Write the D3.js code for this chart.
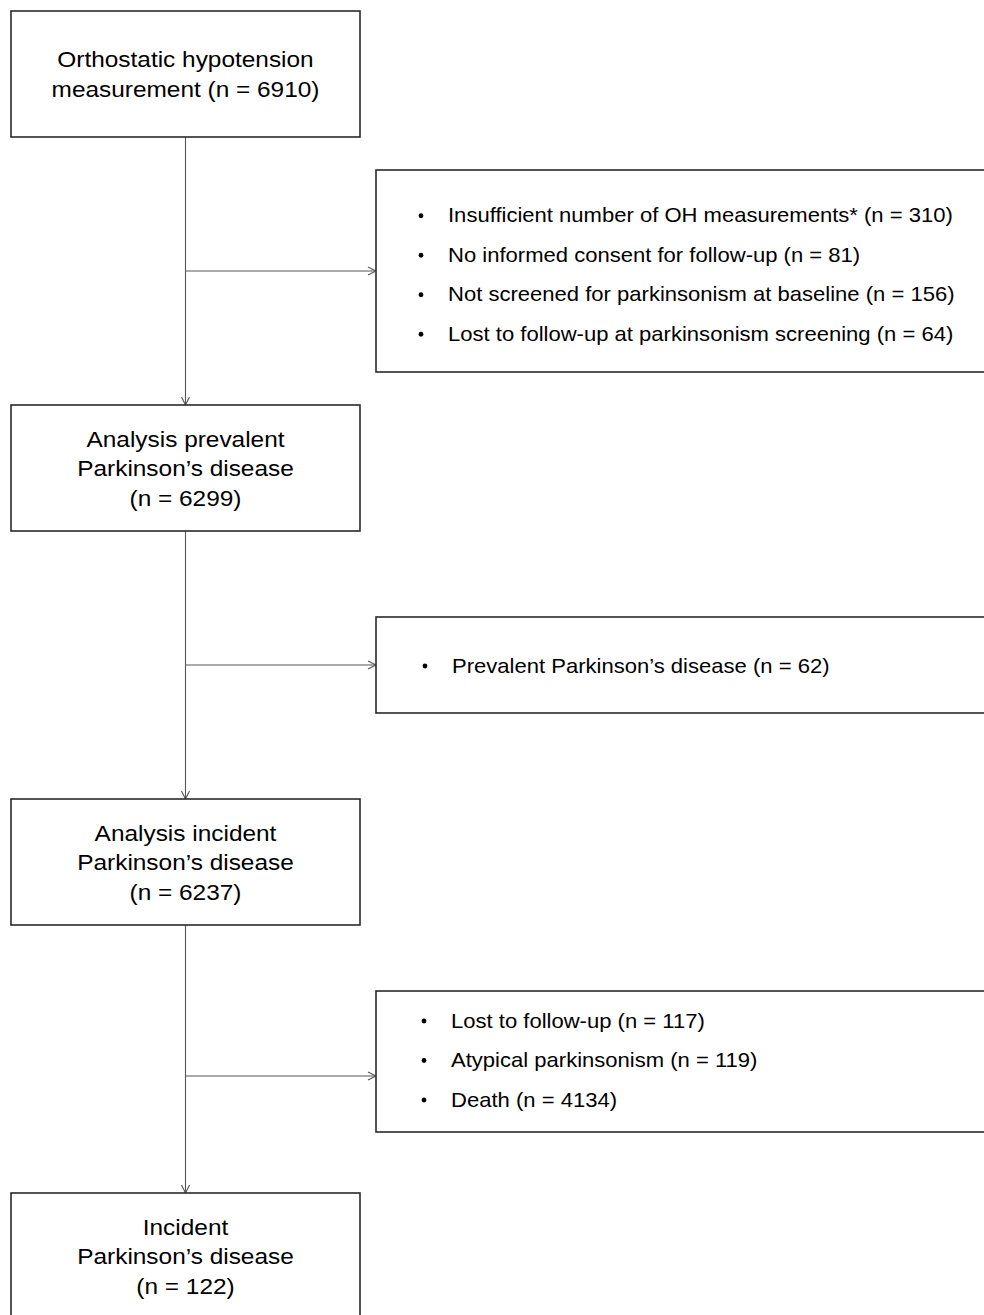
<!DOCTYPE html>
<html>
<head>
<meta charset="utf-8">
<script src="https://cdn.jsdelivr.net/npm/d3@7"></script>
<style>
  html, body { margin: 0; padding: 0; background: #fff; }
  svg { display: block; }
  text { font-family: "Liberation Sans", Arial, sans-serif; fill: #000; }
</style>
</head>
<body>
<script>
// flow chart content
var stepLabels = [
	['Orthostatic hypotension', 'measurement (n = 6910)'],
	['Analysis prevalent', 'Parkinson\u2019s disease', '(n = 6299)'],
	['Analysis incident', 'Parkinson\u2019s disease', '(n = 6237)'],
	['Incident', 'Parkinson\u2019s disease', '(n = 122)']
];
var exclusionsA = [
	'Insufficient number of OH measurements* (n = 310)',
	'No informed consent for follow-up (n = 81)',
	'Not screened for parkinsonism at baseline (n = 156)',
	'Lost to follow-up at parkinsonism screening (n = 64)'
];
var exclusionsB = ['Prevalent Parkinson\u2019s disease (n = 62)'];
var exclusionsC = [
	'Lost to follow-up (n = 117)',
	'Atypical parkinsonism (n = 119)',
	'Death (n = 4134)'
];
var exclusions = [exclusionsA, exclusionsB, exclusionsC];

// layout
var W = 984, H = 1315,
	boxX = 11, boxW = 349, boxH = 126,
	sideX = 376, sideW = 640,
	sideTop = [170, 617, 991], sideH = [202, 96, 141],
	arrowShift = [0, 0, 17],
	textShift = [3, 0, -2],
	indent = [0, 4, 3];

var y = d3.scaleLinear().domain([0, stepLabels.length - 1]).range([boxX, 1193]);
var midX = boxX + boxW / 2;

var svg = d3.select('body').append('svg').attr('width', W).attr('height', H);

var line = svg.append('g').attr('stroke', '#555').attr('stroke-width', 1.1).attr('fill', 'none');

function arrowHead(x, yy, dir) {
	// open V head, dir 'down' or 'right'
	var p = dir === 'down'
		? [[x - 4, yy - 8], [x, yy], [x + 4, yy - 8]]
		: [[x - 8, yy - 4], [x, yy], [x - 8, yy + 4]];
	line.append('path').attr('d', d3.line()(p));
}

// connectors
d3.range(stepLabels.length - 1).forEach(function(i) {
	var y0 = y(i) + boxH, y1 = y(i + 1);
	line.append('line').attr('x1', midX).attr('x2', midX).attr('y1', y0).attr('y2', y1);
	arrowHead(midX, y1, 'down');
	var ya = (y0 + y1) / 2 + arrowShift[i];
	line.append('line').attr('x1', midX).attr('x2', sideX).attr('y1', ya).attr('y2', ya);
	arrowHead(sideX, ya, 'right');
});

// main boxes
var boxes = svg.selectAll('g.step').data(stepLabels).enter().append('g').attr('class', 'step');
boxes.append('rect')
	.attr('x', boxX).attr('y', function(d, i) { return y(i); })
	.attr('width', boxW).attr('height', boxH)
	.attr('fill', '#fff').attr('stroke', '#2a2a2a').attr('stroke-width', 1.6);
boxes.each(function(d, i) {
	var g = d3.select(this), cy = y(i) + boxH / 2;
	d.forEach(function(t, j) {
		var by = cy + (j - (d.length - 1) / 2) * 29.5 + 8;
		g.append('text')
			.attr('transform', 'translate(' + midX + ',' + by + ') scale(1.08,1)')
			.attr('text-anchor', 'middle').attr('font-size', 22.6).text(t);
	});
});

// exclusion boxes
var side = svg.selectAll('g.side').data(exclusions).enter().append('g').attr('class', 'side');
side.append('rect')
	.attr('x', sideX).attr('y', function(d, i) { return sideTop[i]; })
	.attr('width', sideW).attr('height', function(d, i) { return sideH[i]; })
	.attr('fill', '#fff').attr('stroke', '#2a2a2a').attr('stroke-width', 1.6);
side.each(function(d, i) {
	var g = d3.select(this), cy = sideTop[i] + sideH[i] / 2 + textShift[i];
	d.forEach(function(t, j) {
		var by = cy + (j - (d.length - 1) / 2) * 39.5 + 7.5;
		g.append('circle').attr('cx', sideX + 45 + indent[i]).attr('cy', by - 6.5).attr('r', 2.4).attr('fill', '#000');
		g.append('text')
			.attr('transform', 'translate(' + (sideX + 72 + indent[i]) + ',' + by + ') scale(1.07,1)')
			.attr('font-size', 20.6).text(t);
	});
});
</script>
</body>
</html>
